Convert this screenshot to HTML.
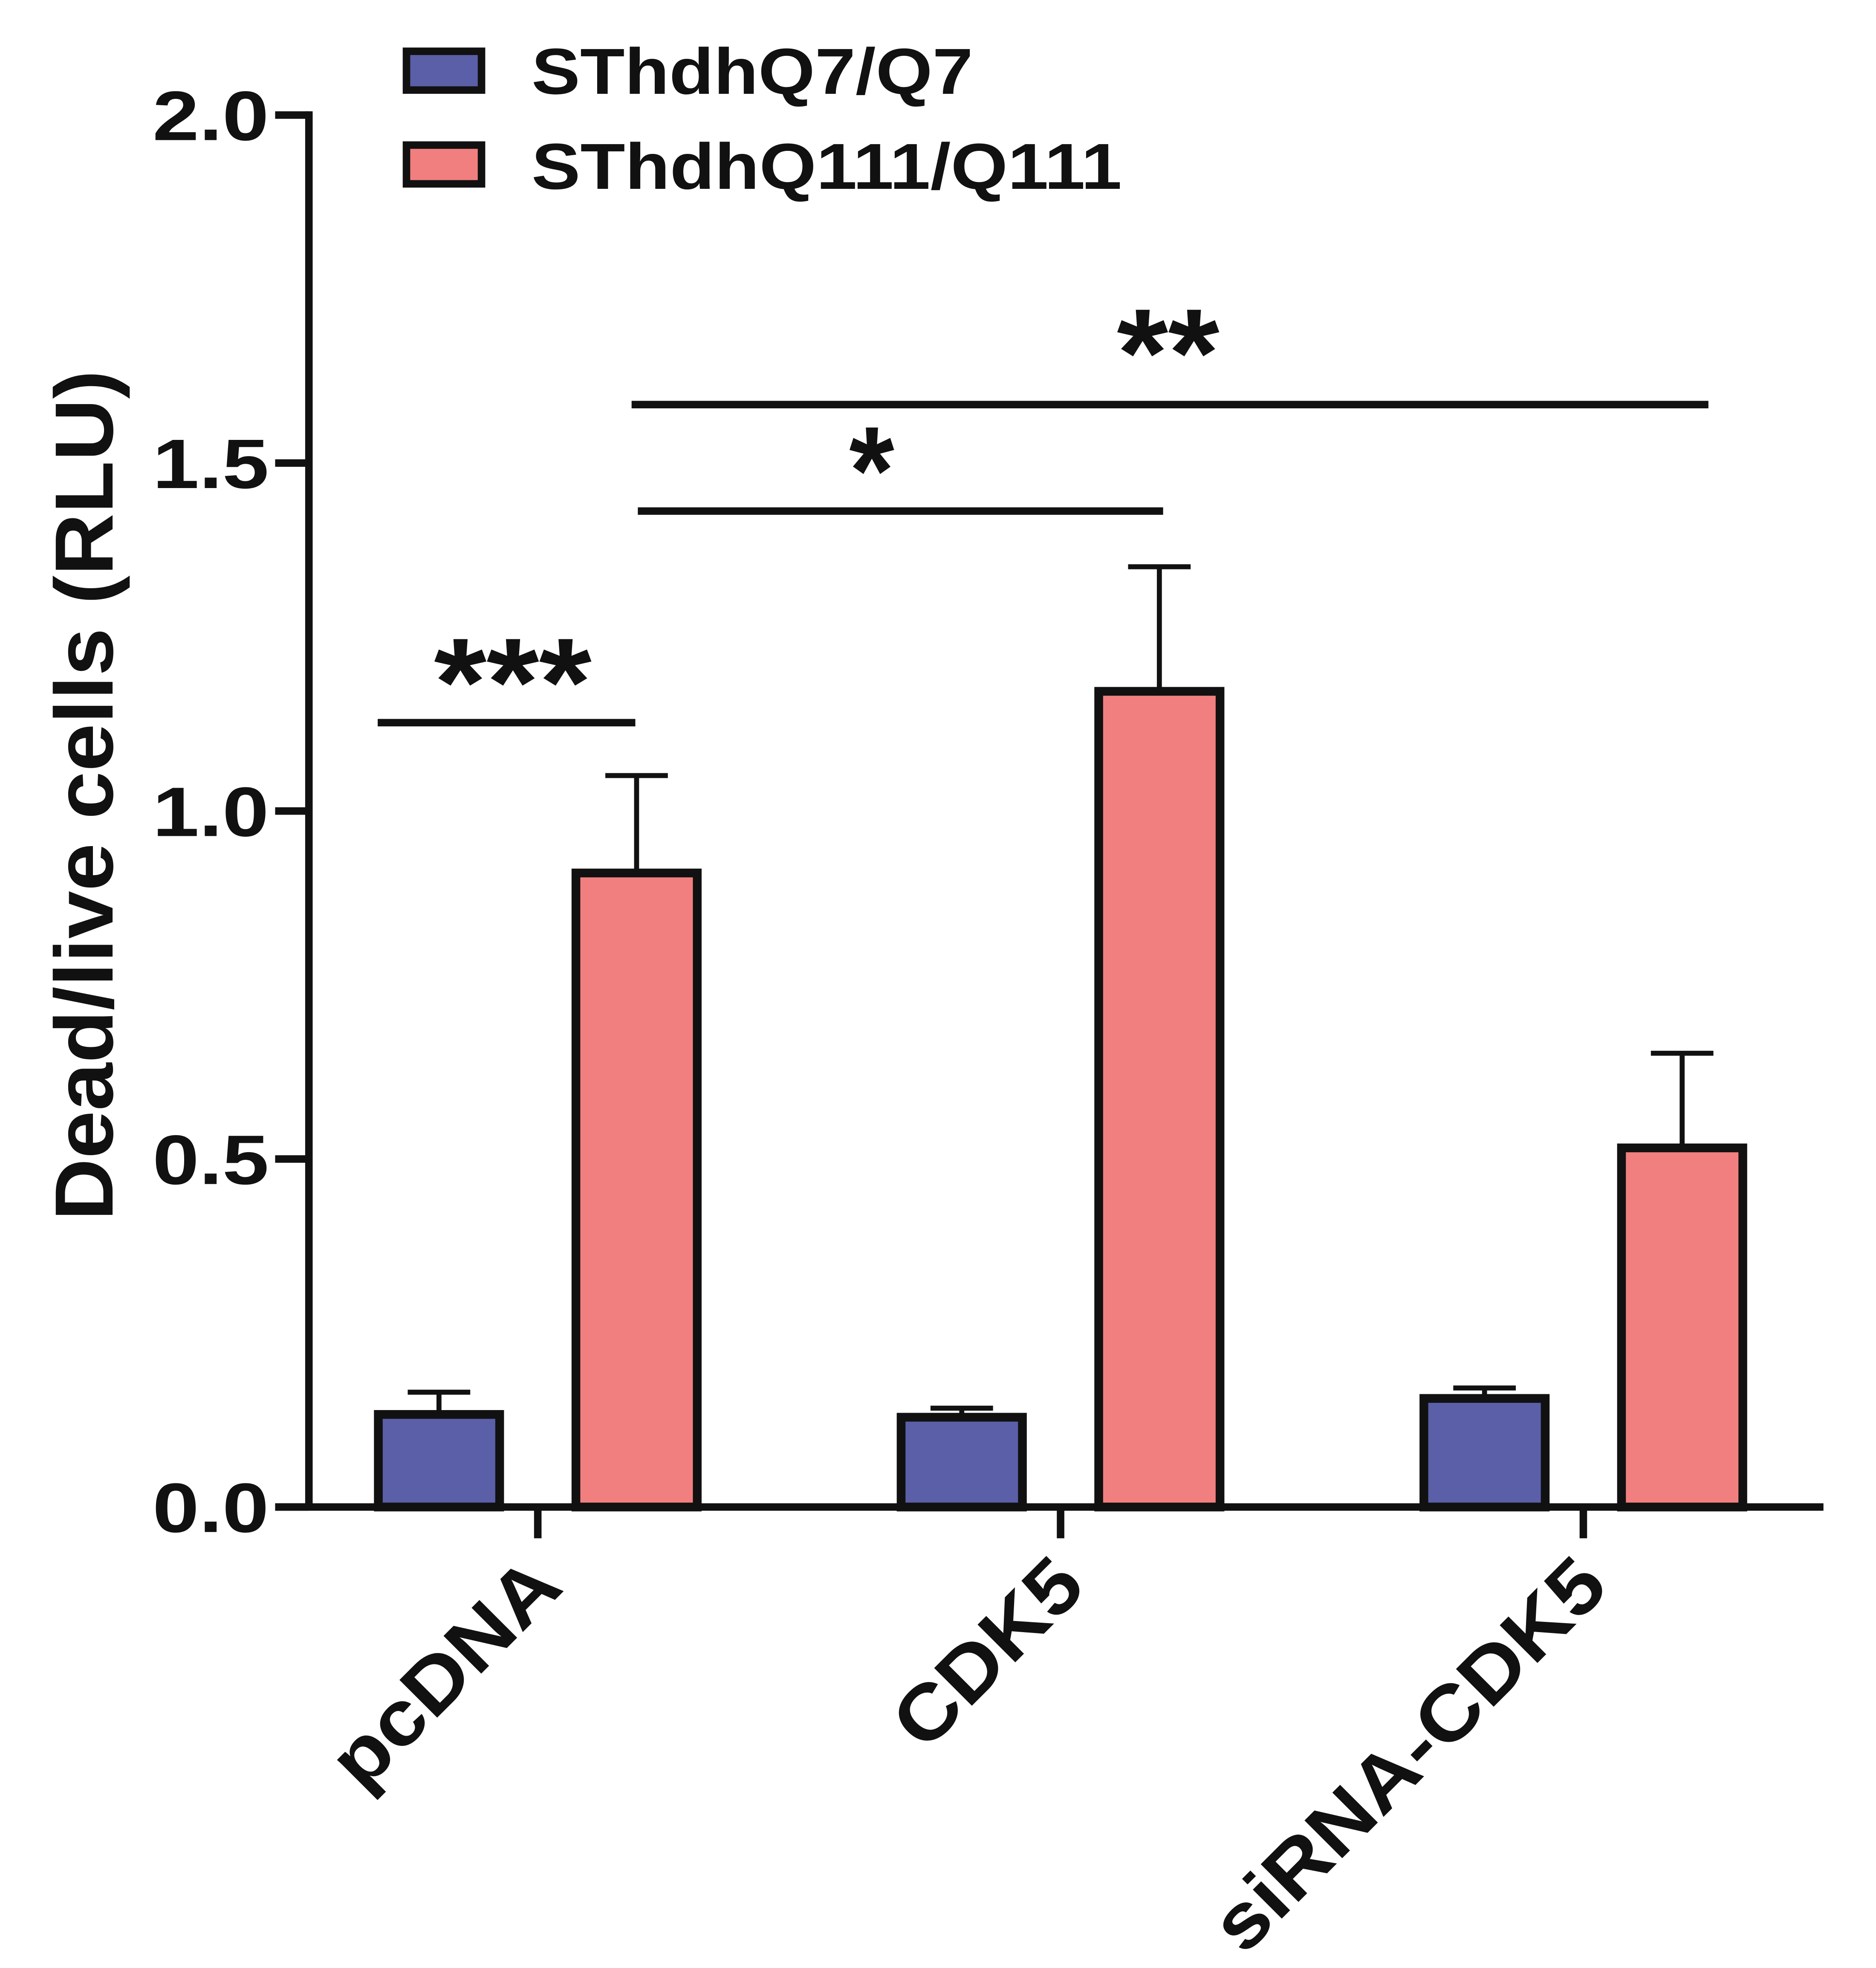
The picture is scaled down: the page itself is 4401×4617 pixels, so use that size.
<!DOCTYPE html>
<html><head><meta charset="utf-8"><style>
html,body{margin:0;padding:0;background:#fff}
svg{display:block}
text{font-family:"Liberation Sans",Arial,sans-serif;font-weight:bold;fill:#111}
</style></head><body>
<svg id="chart" width="4401" height="4617" viewBox="0 0 1500 1573.6" xmlns="http://www.w3.org/2000/svg">
<g id="axes"></g>
<g id="bars"></g>
<g id="sig"></g>
<g>
  <rect x="325" y="41" width="60" height="31" fill="#5a5fa8" stroke="#111" stroke-width="6"/>
  <text x="425" y="75" font-size="52" textLength="353" lengthAdjust="spacingAndGlyphs">SThdhQ7/Q7</text>
  <rect x="325" y="116" width="60" height="31" fill="#f27f7f" stroke="#111" stroke-width="6"/>
  <text x="425" y="151" font-size="52" textLength="472" lengthAdjust="spacingAndGlyphs">SThdhQ111/Q111</text>
</g>
<text transform="translate(90,636) rotate(-90)" text-anchor="middle" font-size="66" textLength="680" lengthAdjust="spacingAndGlyphs">Dead/live cells (RLU)</text>
<script>
const categories = ["pcDNA","CDK5","siRNA-CDK5"];
const q7Values = [0.133, 0.129, 0.156];
const q7Errors = [0.032, 0.013, 0.015];
const q111Values = [0.911, 1.172, 0.516];
const q111Errors = [0.140, 0.179, 0.136];
const yTicks = [0.0, 0.5, 1.0, 1.5, 2.0];
const yTickLabels = ["0.0","0.5","1.0","1.5","2.0"];
const sigLabels = ["***","*","**"];
const sigY = [1.127, 1.431, 1.584];

const NS = "http://www.w3.org/2000/svg";
const y0 = 1205, y1 = 92;
function yScale(v){ return y0 - (v/2.0)*(y0-y1); }
const groupCenters = [430, 848, 1268];
function xCenter(i){ return groupCenters[0] + i*(groupCenters[1]-groupCenters[0]); }
const barW = 97, offset = 79;
function mk(tag, attrs, parent){ const e=document.createElementNS(NS,tag); for(const k in attrs) e.setAttribute(k,attrs[k]); parent.appendChild(e); return e; }

const axes = document.getElementById('axes');
let yl = mk('line',{x1:247,y1:y1-3,x2:247,y2:y0,stroke:'#111','stroke-width':6},axes);


let xl = mk('line',{x1:220,y1:y0,x2:1458,y2:y0,stroke:'#111','stroke-width':6},axes);


yTicks.forEach((t,i)=>{
  const y=yScale(t);
  const tk=mk('line',{x1:220,y1:y,x2:247,y2:y,stroke:'#111','stroke-width':6},axes);
  
  
  const tx=mk('text',{x:122,y:y+20,'font-size':56,textLength:93,lengthAdjust:'spacingAndGlyphs'},axes);
  tx.textContent=yTickLabels[i];
  
  
});
const xLabelLen = [230, 185, 415];
categories.forEach((c,i)=>{
  const x=xCenter(i);
  const tk=mk('line',{x1:x,y1:y0,x2:x,y2:y0+25,stroke:'#111','stroke-width':6},axes);
  
  
  const tx=mk('text',{transform:`translate(${x+22},${y0+66}) rotate(-45)`,'text-anchor':'end','font-size':62,textLength:xLabelLen[i],lengthAdjust:'spacingAndGlyphs'},axes);
  tx.textContent=c;
  
  
});

const bars = document.getElementById('bars');
function drawBar(cx,v,err,fill,name){
  const top=yScale(v), et=yScale(v+err);
  const el=mk('line',{x1:cx,y1:et,x2:cx,y2:top,stroke:'#111','stroke-width':4},bars);
  
  
  const ec=mk('line',{x1:cx-25,y1:et,x2:cx+25,y2:et,stroke:'#111','stroke-width':4},bars);
  
  
  const r=mk('rect',{x:cx-barW/2,y:top,width:barW,height:y0-top,fill:fill,stroke:'#111','stroke-width':7},bars);
  
  
}
categories.forEach((c,i)=>{
  drawBar(xCenter(i)-offset,q7Values[i],q7Errors[i],'#5a5fa8','bar-q7-'+i);
  drawBar(xCenter(i)+offset,q111Values[i],q111Errors[i],'#f27f7f','bar-q111-'+i);
});

const sig = document.getElementById('sig');
const sigSpans = [[302,508],[510,930],[505,1366]];
const sigTextX = [410, 697, 934];
const sigTextLen = [126, 36, 82];
const sigDy = [2, 2, -7];
sigLabels.forEach((s,i)=>{
  const y=yScale(sigY[i]);
  const [a,b]=sigSpans[i];
  const l=mk('line',{x1:a,y1:y,x2:b,y2:y,stroke:'#111','stroke-width':6},sig);
  
  
  const t=mk('text',{x:sigTextX[i]-sigTextLen[i]/2,y:y+sigDy[i],'font-size':100,textLength:sigTextLen[i],lengthAdjust:'spacingAndGlyphs'},sig);
  t.textContent=s;
  
  
});
</script>
</svg>
</body></html>
